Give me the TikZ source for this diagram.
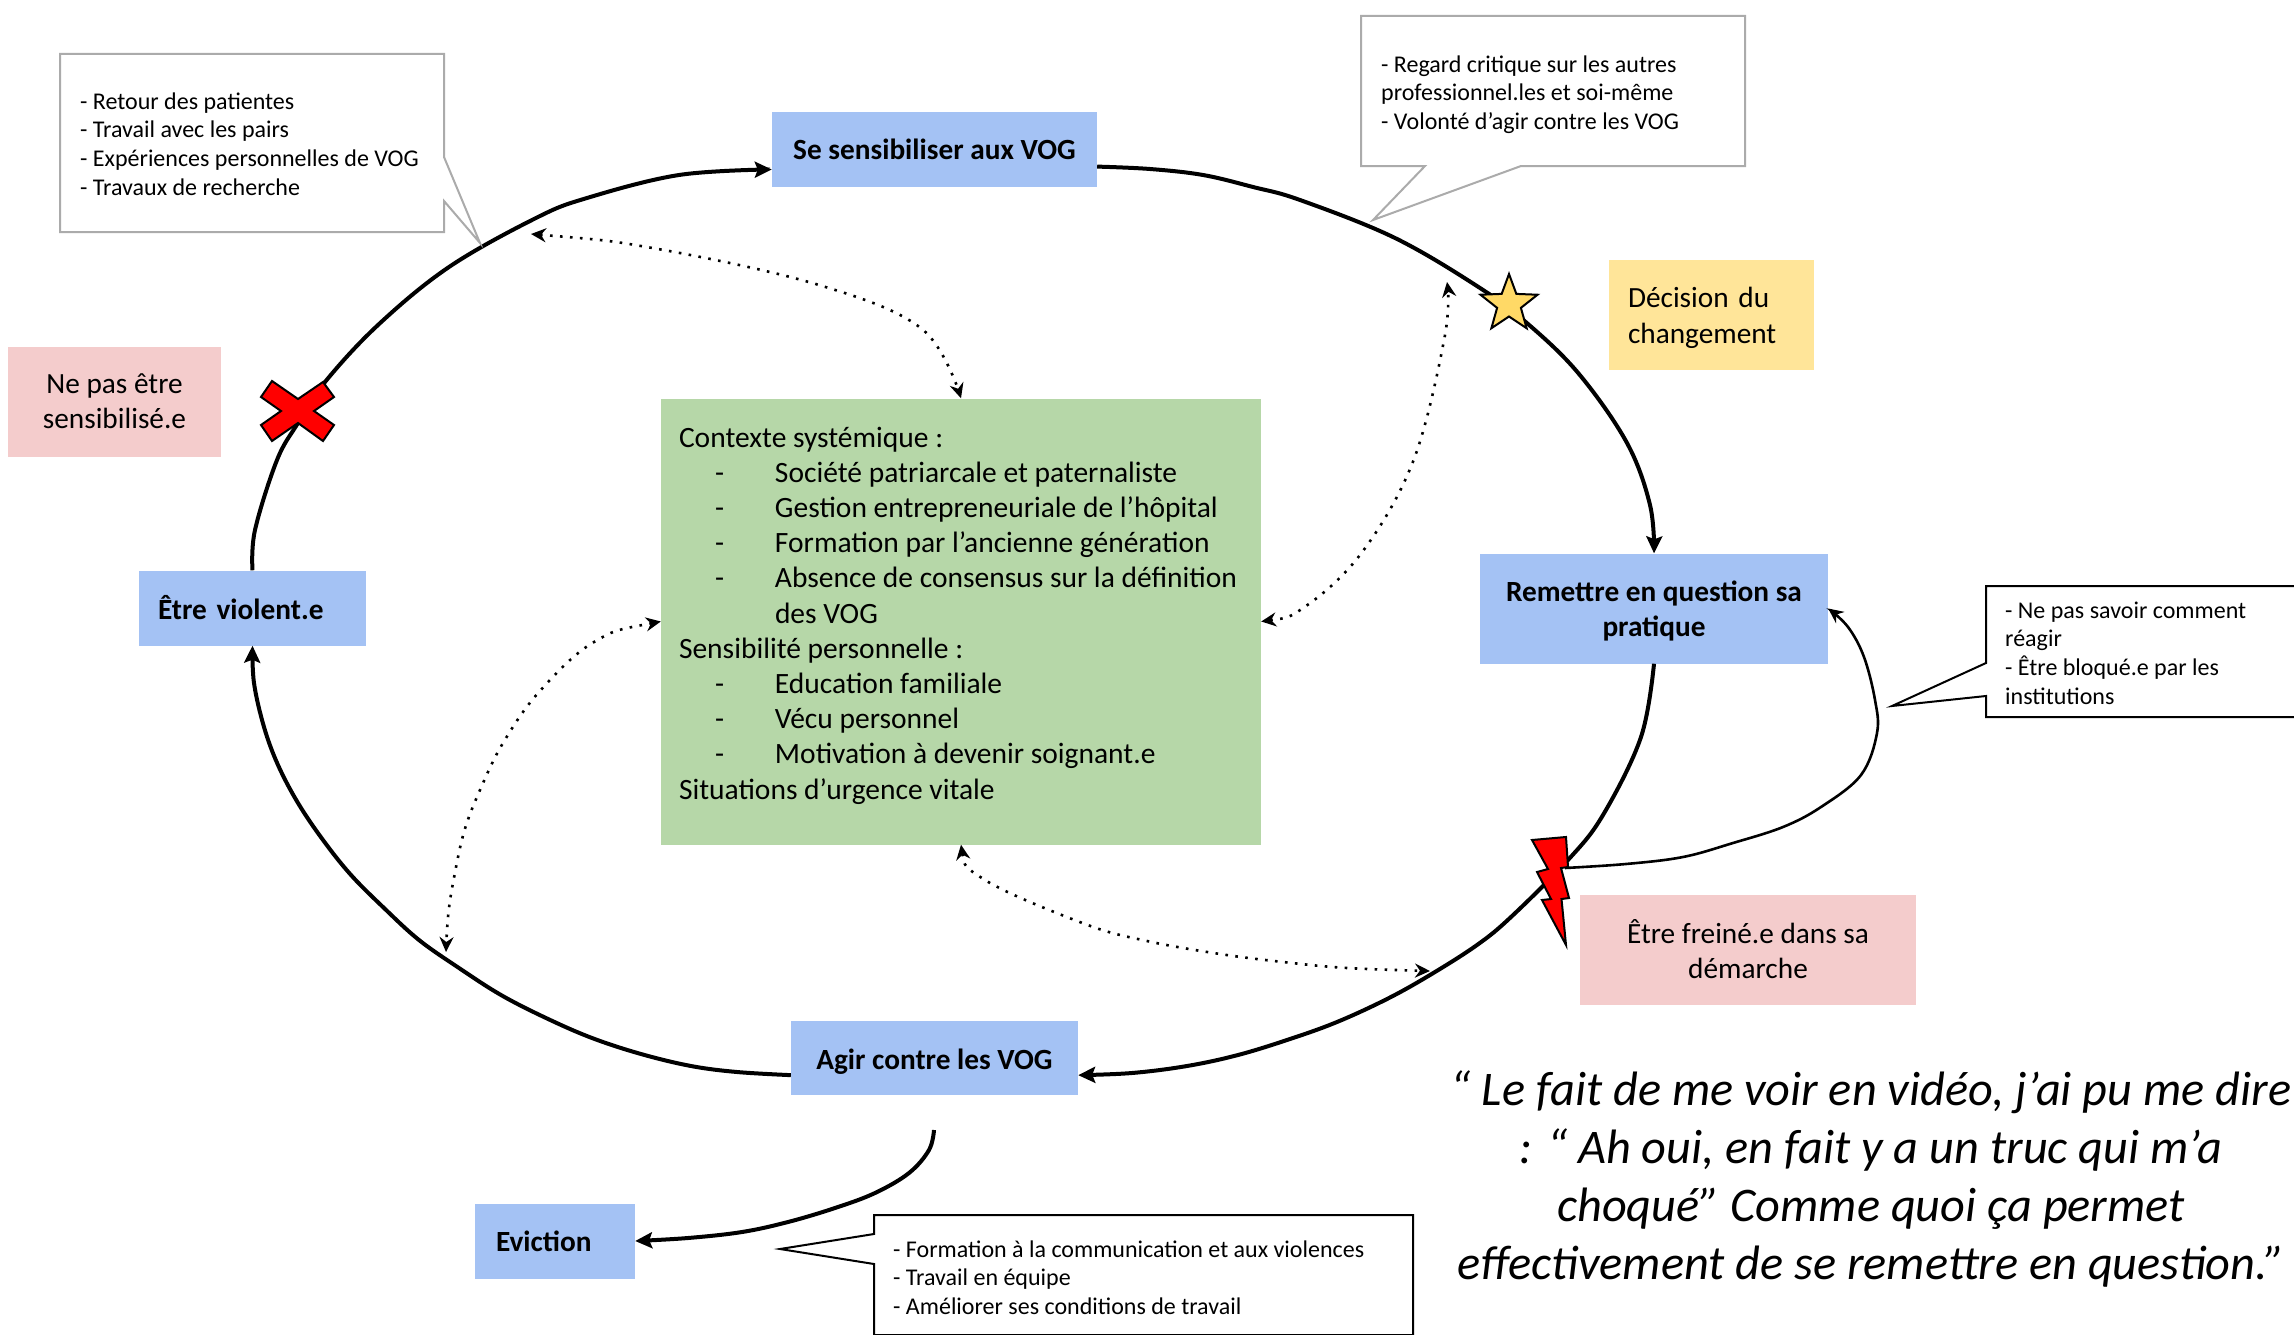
\documentclass[tikz,border=0pt]{standalone}
\usepackage{fontspec}
\setmainfont{Carlito}
\usepackage{xcolor}
\usetikzlibrary{shapes,shapes.geometric,arrows.meta,calc,positioning}
\definecolor{bleu}{HTML}{A4C2F4}
\definecolor{rose}{HTML}{F4CCCC}
\definecolor{vert}{HTML}{B6D7A8}
\definecolor{jaune}{HTML}{FFE599}
\definecolor{etoile}{HTML}{FFD966}
\definecolor{gris}{HTML}{ABABAB}
\newcommand{\tiret}{\hspace*{36pt}\makebox[60pt][l]{-}}
\begin{document}
\begin{tikzpicture}
[x=1pt,y=-1pt,
boite/.style={shape=rectangle,inner sep=0pt,align=center,font=\fontsize{29.3}{35.2}\selectfont},
action/.style={boite,fill=bleu,font=\fontsize{29.3}{35.2}\selectfont\bfseries},
frein/.style={boite,fill=rose},
note/.style={anchor=west,inner sep=0pt,align=left,font=\fontsize{24}{28.7}\selectfont},
bulle/.style={fill=white,line width=2pt},
fleche/.style={line width=4pt,-{Stealth[length=17pt,width=16pt,inset=3pt]}},
filet/.style={line width=2.6pt,-{Stealth[length=15pt,width=14pt,inset=5pt]}},
pointille/.style={line width=2.6pt,dash pattern=on 2.6pt off 7.4pt,{Stealth[length=15pt,width=14pt,inset=5pt]}-{Stealth[length=15pt,width=14pt,inset=5pt]}}]
\useasboundingbox (0,0) rectangle (2294,1335);

% les etapes
\node[action,minimum width=325pt,minimum height=74pt] (sens) at (934.5,149.5) {Se sensibiliser aux VOG};
\node[action,minimum width=348pt,minimum height=110pt] (remise) at (1654,608.5) {\rule{0pt}{25pt}Remettre en question sa\\pratique};
\node[action,minimum width=287pt,minimum height=74pt] (agir) at (934.5,1057.5) {\rule{0pt}{28pt}Agir contre les VOG};
\node[action,minimum width=227pt,minimum height=75pt,align=left,text width=189pt] (violent) at (252.5,608) {Être violent.e};
\node[action,minimum width=160pt,minimum height=75pt,align=left,text width=118pt] (eviction) at (555,1241) {Eviction};

% les reperes
\node[frein,minimum width=213pt,minimum height=110pt] (nonsens) at (114.5,401.5) {Ne pas être\\sensibilisé.e};
\node[frein,minimum width=336pt,minimum height=110pt] (freine) at (1748,949.5) {Être freiné.e dans sa\\démarche};
\node[boite,fill=jaune,minimum width=205pt,minimum height=110pt,align=left,text width=167pt] (decision) at (1711.5,314.5) {\rule{0pt}{27pt}Décision du\\changement};

% le contexte
\node[boite,fill=vert,minimum width=600pt,minimum height=446pt] (contexte) at (961,621.5) {};
\node[boite,anchor=west,align=left,font=\fontsize{29.5}{35.2}\selectfont] (liste) at ($(contexte.west)+(18,-6)$) {Contexte systémique :\\
\tiret Société patriarcale et paternaliste\\
\tiret Gestion entrepreneuriale de l’hôpital\\
\tiret Formation par l’ancienne génération\\
\tiret Absence de consensus sur la définition\\
\hspace*{96pt}des VOG\\
Sensibilité personnelle :\\
\tiret Education familiale\\
\tiret Vécu personnel\\
\tiret Motivation à devenir soignant.e\\
Situations d’urgence vitale};

% le cycle
\draw[fleche] plot[smooth,tension=.6] coordinates {(violent.north) (255,530) (277,460) (298,423) (325,382) (378,325) (449,267) (536,218) (587,198) (679,175) (sens.187)};
\draw[fleche] plot[smooth,tension=.6] coordinates {(sens.-6) (1150,169) (1203,175) (1253,187) (1300,200) (1395,238) (1480,288) (1528,324) (1579,374) (1627,443) (1650,505) (remise.north)};
\draw[fleche] plot[smooth,tension=.6] coordinates {(remise.south) (1641,737) (1603,815) (1568,860) (1511,917) (1477,945) (1430,975) (1387,999) (1337,1022) (1290,1039) (1238,1055) (1187,1066) (1132,1073) (agir.-7)};
\draw[fleche] plot[smooth,tension=.6] coordinates {(agir.187) (737,1072) (691,1066) (641,1054) (592,1038) (546,1018) (501,995) (459,968) (419,940) (384,908) (351,875) (323,840) (298,803) (278,765) (264,727) (254,683) (violent.south)};
\coordinate (sortie) at (934,1130);
\draw[fleche] plot[smooth,tension=.6] coordinates {(sortie) (929,1150) (909,1173) (875,1193) (835,1208) (788,1222) (742,1232) (688,1238) (eviction.east)};
\coordinate (eclair) at (1565,868);
\draw[filet] plot[smooth,tension=.6] coordinates {(eclair) (1626,864) (1683,857) (1733,843) (1783,827) (1821,807) (1861,775) (1877,733) (1875,700) (1864,657) (1848,627) (remise.east)};

% les influences
\coordinate (bouclehaut) at (531,234);
\coordinate (boucledroite) at (1447,282);
\coordinate (bouclebas) at (1430,971);
\coordinate (bouclegauche) at (446,952);
\draw[pointille] plot[smooth,tension=.6] coordinates {(bouclehaut) (658,249) (819,285) (922,329) (contexte.north)};
\draw[pointille] plot[smooth,tension=.6] coordinates {(contexte.east) (1306,606) (1363,551) (1414,459) (1445,335) (boucledroite)};
\draw[pointille] plot[smooth,tension=.6] coordinates {(contexte.south) (985,880) (1085,924) (1147,941) (1220,954) (1283,962) (1347,968) (bouclebas)};
\draw[pointille] plot[smooth,tension=.6] coordinates {(contexte.west) (594,642) (539,692) (503,743) (480,790) (464,832) (453,883) (448,917) (bouclegauche)};

% les symboles
\draw[fill=red,line width=2pt] (272,381) -- (298,399) -- (323,382) -- (334,397) -- (314,411) -- (334,425) -- (323,441) -- (298,423) -- (272,441) -- (261,425) -- (281,411) -- (261,397) -- cycle;
\draw[fill=red,line width=2pt] (1532,840) -- (1566,837) -- (1568,867) -- (1561,868) -- (1569,898) -- (1561.5,899) -- (1566,945) -- (1542,900) -- (1551,899) -- (1537,872) -- (1548,869) -- cycle;
\node[star,star points=5,star point ratio=2.4,draw,fill=etoile,line width=2pt,inner sep=0pt,minimum size=60pt] (astre) at (1509,304) {};

% les bulles
\draw[bulle,draw=gris] (60,54) -- (444,54) -- (444,157) -- (480,243) -- (444,201) -- (444,232) -- (60,232) -- cycle;
\node[note] (retour) at (80,144) {- Retour des patientes\\- Travail avec les pairs\\- Expériences personnelles de VOG\\- Travaux de recherche};
\draw[bulle,draw=gris] (1361,16) -- (1745,16) -- (1745,166) -- (1521,166) -- (1373,220) -- (1425,166) -- (1361,166) -- cycle;
\node[note] (regard) at (1381,94.7) {- Regard critique sur les autres\\professionnel.les et soi-même\\- Volonté d’agir contre les VOG};
\draw[bulle,draw=black] (1986,586) -- (2300,586) -- (2300,717) -- (1986,717) -- (1986,696) -- (1892,706) -- (1986,663) -- cycle;
\node[note] (savoir) at (2005,653) {- Ne pas savoir comment\\réagir\\- Être bloqué.e par les\\institutions};
\draw[bulle,draw=black] (874,1215) -- (1413,1215) -- (1413,1335) -- (874,1335) -- (874,1264) -- (780,1249) -- (874,1234) -- cycle;
\node[note] (formation) at (893,1277.5) {- Formation à la communication et aux violences\\- Travail en équipe\\- Améliorer ses conditions de travail};

% le verbatim
\node[inner sep=0pt,align=center,font=\fontsize{48.3}{57.8}\selectfont\itshape] (verbatim) at (1871,1179) {“ Le fait de me voir en vidéo, j’ai pu me dire\\: “ Ah oui, en fait y a un truc qui m’a\\choqué” Comme quoi ça permet\\effectivement de se remettre en question.”};
\end{tikzpicture}
\end{document}
